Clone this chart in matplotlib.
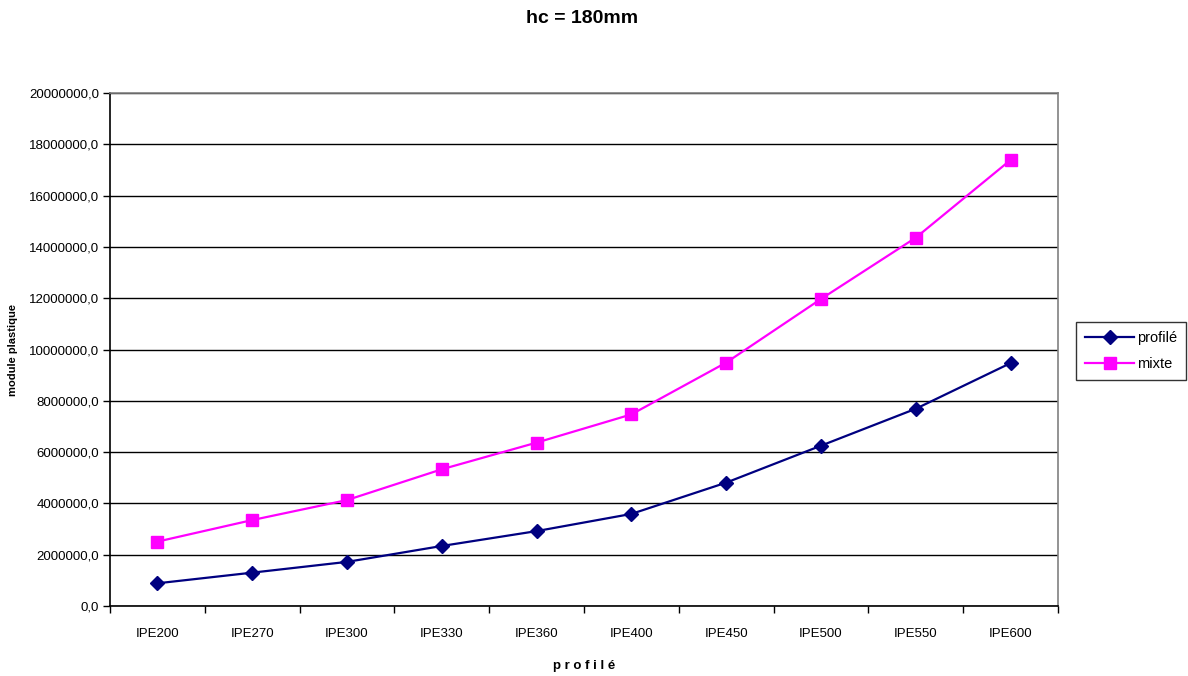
import matplotlib
matplotlib.use("Agg")
import matplotlib.pyplot as plt
from matplotlib.ticker import FixedLocator, FuncFormatter

plt.rcParams['font.family'] = ['Liberation Sans', 'DejaVu Sans']

profiles = ["IPE200", "IPE270", "IPE300", "IPE330", "IPE360",
            "IPE400", "IPE450", "IPE500", "IPE550", "IPE600"]
profile_values = [885000, 1300000, 1720000, 2340000, 2920000,
                  3590000, 4810000, 6250000, 7690000, 9470000]
mixed_values = [2510000, 3350000, 4130000, 5330000, 6370000,
                7470000, 9490000, 11970000, 14360000, 17390000]
y_ticks = [0, 2000000, 4000000, 6000000, 8000000, 10000000,
           12000000, 14000000, 16000000, 18000000, 20000000]

fig = plt.figure(figsize=(11.88, 6.76), dpi=100)
ax = fig.add_axes([110 / 1188, 1 - 606 / 676, 948 / 1188, 513 / 676])

x = list(range(len(profiles)))
ax.plot(x, profile_values, color="#000080", lw=1.6, marker="D",
        markersize=7.5, label="profilé", zorder=3)
ax.plot(x, mixed_values, color="#FF00FF", lw=1.6, marker="s",
        markersize=9, label="mixte", zorder=3)

ax.set_xlim(-0.5, len(profiles) - 0.5)
ax.set_ylim(0, 20000000)
ax.set_yticks(y_ticks)
ax.yaxis.set_major_formatter(FuncFormatter(lambda v, p: f"{int(v)},0"))
ax.set_xticks(x)
ax.set_xticklabels(profiles)
ax.xaxis.set_minor_locator(FixedLocator([i - 0.5 for i in range(len(profiles) + 1)]))
ax.tick_params(axis="x", which="major", length=0, pad=16, labelsize=9.5)
ax.tick_params(axis="x", which="minor", length=5, width=1, color="black", direction="out")
ax.tick_params(axis="y", length=5, width=1, direction="out", labelsize=9.5, pad=3)

ax.grid(axis="y", color="black", lw=1)
ax.set_axisbelow(True)
for side in ("left", "bottom"):
    ax.spines[side].set_color("black")
    ax.spines[side].set_linewidth(1.2)
for side in ("top", "right"):
    ax.spines[side].set_color("#808080")
    ax.spines[side].set_linewidth(1.2)

ax.set_xlabel("p r o f i l é", fontsize=9.5, fontweight="bold", labelpad=14)
ax.set_ylabel("module plastique", fontsize=8, fontweight="bold", labelpad=8)

fig.suptitle("hc = 180mm", x=0.49, y=0.985, fontsize=14, fontweight="bold")

leg = ax.legend(loc="center left", bbox_to_anchor=((1076 - 110) / 948, (606 - 351) / 513),
                frameon=True, fancybox=False, edgecolor="black",
                fontsize=10.5, handlelength=3.4, borderpad=0.6,
                labelspacing=0.85, handletextpad=0.2, borderaxespad=0)
leg.get_frame().set_linewidth(1)

fig.savefig("out.png", dpi=100)
